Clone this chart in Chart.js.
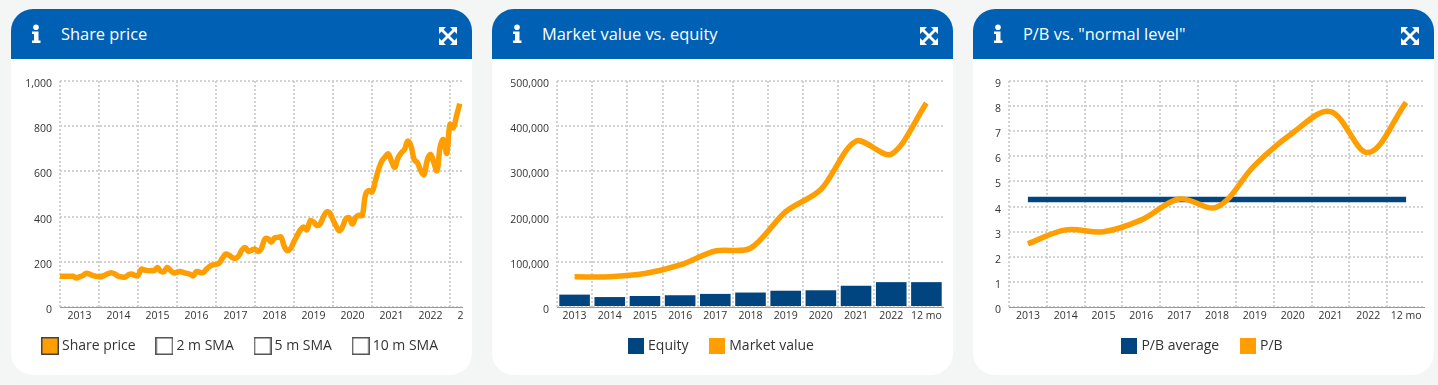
<!DOCTYPE html>
<html>
<head>
<meta charset="utf-8">
<title>Share price charts</title>
<script src="https://cdn.jsdelivr.net/npm/chart.js@4/dist/chart.umd.js"></script>
<style>
    html, body { margin: 0; padding: 0; background: #f4f6f6; overflow: hidden; }
    body { width: 1438px; height: 385px; position: relative; font-family: "Open Sans", "Noto Sans", sans-serif; }
    .card { position: absolute; top: 9px; width: 461px; height: 366px; background: #fff; border-radius: 22px; overflow: hidden; }
    .card-head { height: 50px; background: #0060b4; color: #fff; position: relative; }
    .card-head .title { position: absolute; left: 50px; top: 13px; font-size: 16.400px; line-height: 24px; white-space: nowrap; }
    .card-head svg { position: absolute; }
    .info { left: 20px; top: 15px; }
    .expand { left: 427px; top: 17px; }
    canvas { position: absolute; left: 9px; top: 57px; }
</style>
</head>
<body>
<div class="card" style="left:11px"><div class="card-head"><svg class="info" width="10" height="20" viewBox="0 0 10 20"><circle cx="5" cy="3.2" r="2.8" fill="#fff"/><path d="M1 7.5h6.5v9H9.500v2.500H1v-2.500h2v-6.500H1z" fill="#fff"/></svg><div class="title">Share price</div><svg class="expand" width="20" height="20" viewBox="0 0 20 20"><use href="#x"/></svg></div><canvas id="c1" width="443" height="300"></canvas></div>
<div class="card" style="left:492px"><div class="card-head"><svg class="info" width="10" height="20" viewBox="0 0 10 20"><circle cx="5" cy="3.2" r="2.8" fill="#fff"/><path d="M1 7.5h6.5v9H9.500v2.500H1v-2.500h2v-6.500H1z" fill="#fff"/></svg><div class="title">Market value vs. equity</div><svg class="expand" width="20" height="20" viewBox="0 0 20 20"><use href="#x"/></svg></div><canvas id="c2" width="443" height="300"></canvas></div>
<div class="card" style="left:973px"><div class="card-head"><svg class="info" width="10" height="20" viewBox="0 0 10 20"><circle cx="5" cy="3.2" r="2.8" fill="#fff"/><path d="M1 7.5h6.5v9H9.500v2.500H1v-2.500h2v-6.500H1z" fill="#fff"/></svg><div class="title">P/B vs. "normal level"</div><svg class="expand" width="20" height="20" viewBox="0 0 20 20"><use href="#x"/></svg></div><canvas id="c3" width="443" height="300"></canvas></div>
<svg width="0" height="0" style="position:absolute"><defs><g id="x" fill="#fff" stroke="none">
    <path d="M1 1h7L5.500 3.500 10 8l4.500-4.500L12 1h7v7l-2.500-2.500L12 10l4.500 4.500L19 12v7h-7l2.500-2.500L10 12l-4.500 4.500L8 19H1v-7l2.500 2.500L8 10 3.500 5.500 1 8z"/>
</g></defs></svg>
<script>
const years = ['2013', '2014', '2015', '2016', '2017', '2018', '2019', '2020', '2021', '2022', '2023'];
const annualLabels = ['2013', '2014', '2015', '2016', '2017', '2018', '2019', '2020', '2021', '2022', '12 mo'];

// monthly closes
const sharePrice = [
    136, 136, 136, 136, 136, 128, 134, 139, 149, 146, 140, 136,
    134, 136, 142, 149, 151, 145, 136, 133, 132, 142, 146, 140,
    139, 167, 164, 161, 161, 161, 175, 158, 157, 175, 162, 151,
    154, 157, 152, 149, 145, 138, 157, 154, 152, 167, 179, 186,
    189, 195, 216, 234, 229, 219, 215, 226, 253, 263, 246, 252,
    256, 246, 260, 300, 302, 287, 305, 308, 309, 268, 249, 260,
    290, 317, 342, 354, 342, 382, 376, 361, 367, 397, 420, 416,
    386, 357, 337, 357, 391, 394, 367, 397, 406, 405, 497, 515,
    509, 556, 608, 645, 663, 678, 645, 618, 660, 682, 697, 734,
    712, 652, 638, 604, 586, 650, 675, 640, 603, 710, 741, 680,
    808, 793, 845, 900
];
const equity = [27400, 22000, 24400, 26000, 29000, 32000, 36000, 37000, 47000, 55000, 55000];
const marketValue = [66700, 67000, 74000, 93000, 124000, 130000, 211000, 260000, 367000, 338000, 451000];
const pbAverage = [4.28, 4.28, 4.28, 4.28, 4.28, 4.28, 4.28, 4.28, 4.28, 4.28, 4.28];
const pb = [2.52, 3.07, 3.0, 3.47, 4.3, 3.98, 5.65, 6.93, 7.78, 6.15, 8.15];

const ORANGE = '#ff9e00', NAVY = '#00457f', GRID = '#d2d2d2', TEXT = '#333';
const FONT = '"Open Sans", "Noto Sans", sans-serif';
const SPACER = '\u00a0\u00a0'; // legend padding also moves it vertically, so widen the gap with the text

function swatch(size, fill, stroke) {
    const c = document.createElement('canvas');
    c.width = c.height = size;
    const g = c.getContext('2d');
    g.fillStyle = fill;
    g.fillRect(0, 0, size, size);
    g.strokeStyle = stroke;
    g.lineWidth = 1.5;
    g.strokeRect(0.75, 0.75, size - 1.5, size - 1.5);
    return c;
}

function legendOpts(items) {
    return {
        position: 'bottom',
        onClick: null,
        labels: {
            usePointStyle: true,
            boxWidth: 10,
            padding: 16.500,
            color: TEXT,
            font: { family: FONT, size: 14 },
            generateLabels: () => items.map((it, i) => ({
                text: it.text + (i < items.length - 1 ? SPACER : ''),
                pointStyle: it.style, fontColor: TEXT, lineWidth: 0,
                strokeStyle: 'transparent', fillStyle: 'transparent'
            }))
        }
    };
}

function axes(leftWidth, yMax, yStep, xExtra) {
    return {
        x: {
            afterFit: s => { s.height = 15.500; s.paddingLeft = 0; s.paddingRight = 0; },
            border: { color: '#999', dash: [2, 2] },
            grid: {
                drawTicks: false, lineWidth: 2,
                color: ctx => (ctx.tick && ctx.tick.label !== '' ? GRID : 'transparent')
            },
            ticks: Object.assign({
                autoSkip: false, maxRotation: 0, minRotation: 0, padding: 3, color: TEXT,
                font: { family: FONT, size: 10.500 }
            }, xExtra)
        },
        y: {
            afterFit: s => { s.width = leftWidth; },
            beginAtZero: true,
            max: yMax,
            border: { display: false, dash: [2, 2] },
            grid: { drawTicks: false, lineWidth: 2, color: GRID },
            ticks: { stepSize: yStep, padding: 8, labelOffset: 3, color: TEXT, font: { family: FONT, size: 10.500 } }
        }
    };
}

function baseOptions(scales, legend) {
    return {
        responsive: false,
        animation: false,
        layout: { padding: { top: 15, bottom: 3 } },
        plugins: { legend, tooltip: { enabled: false } },
        elements: { point: { radius: 0 } },
        scales
    };
}

const monthLabels = sharePrice.concat([null]).map((_, i) => (i % 12 === 0 ? years[i / 12] : ''));

new Chart(document.getElementById('c1'), {
    type: 'line',
    data: {
        labels: monthLabels,
        datasets: [{ label: 'Share price', data: sharePrice, borderColor: ORANGE, borderWidth: 5.500, tension: 0.4 }]
    },
    options: baseOptions(
        axes(40, 1000, 200, { labelOffset: 19.500 }),
        legendOpts([
            { text: 'Share price', style: swatch(18, ORANGE, '#444') },
            { text: '2 m SMA', style: swatch(18, '#fff', '#555') },
            { text: '5 m SMA', style: swatch(18, '#fff', '#555') },
            { text: '10 m SMA', style: swatch(18, '#fff', '#555') }
        ])
    )
});

new Chart(document.getElementById('c2'), {
    data: {
        labels: annualLabels,
        datasets: [
            { type: 'line', label: 'Market value', data: marketValue, borderColor: ORANGE, borderWidth: 5.500, tension: 0.3, order: 1 },
            { type: 'bar', label: 'Equity', data: equity, backgroundColor: NAVY, barPercentage: 0.87, categoryPercentage: 1, order: 2 }
        ]
    },
    options: baseOptions(
        axes(56, 500000, 100000, {}),
        legendOpts([
            { text: 'Equity', style: swatch(16, NAVY, NAVY) },
            { text: 'Market value', style: swatch(16, ORANGE, ORANGE) }
        ])
    )
});

const pbScales = axes(27, 9, 1, {});
pbScales.x.offset = true;
pbScales.x.grid.offset = true;

new Chart(document.getElementById('c3'), {
    type: 'line',
    data: {
        labels: annualLabels,
        datasets: [
            { label: 'P/B average', data: pbAverage, borderColor: NAVY, borderWidth: 5.500, tension: 0, order: 2 },
            { label: 'P/B', data: pb, borderColor: ORANGE, borderWidth: 5.500, tension: 0.35, order: 1 }
        ]
    },
    options: baseOptions(
        pbScales,
        legendOpts([
            { text: 'P/B average', style: swatch(16, NAVY, NAVY) },
            { text: 'P/B', style: swatch(16, ORANGE, ORANGE) }
        ])
    )
});
</script>
</body>
</html>
